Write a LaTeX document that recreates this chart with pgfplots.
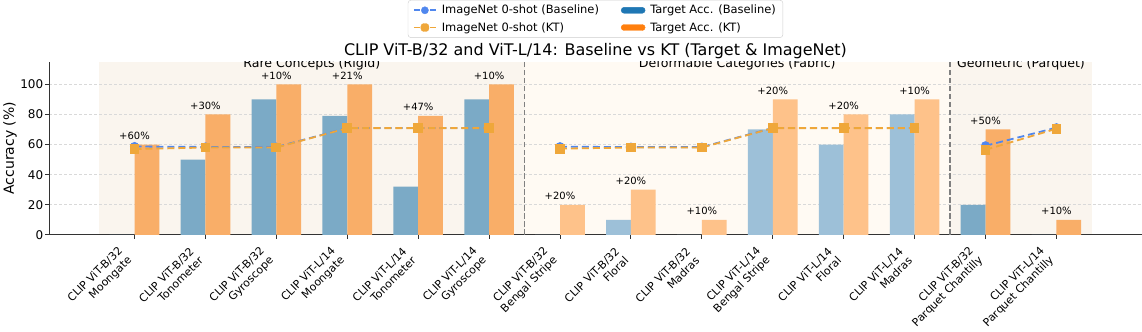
\documentclass[border=0pt]{standalone}
\usepackage{pgfplots}
\pgfplotsset{compat=1.18}
\usepackage{pgfplotstable}
\usepackage{fontspec}
\setmainfont{DejaVu Sans}

\definecolor{bgrigid}{HTML}{FAF5EE}
\definecolor{bgfab}{HTML}{FFFAF3}
\definecolor{barblue}{HTML}{7BAAC6}
\definecolor{barorange}{HTML}{F9AE68}
\definecolor{barbluelt}{HTML}{9DC0D8}
\definecolor{barorangelt}{HTML}{FEC28A}
\definecolor{tabblue}{HTML}{1F77B4}
\definecolor{taborange}{HTML}{FF7F0E}
\definecolor{inblue}{HTML}{5087EE}
\definecolor{inorange}{HTML}{EFA73A}
\definecolor{spine}{HTML}{333333}

% x = category index, base/kt = target accuracy, inbase/inkt = ImageNet 0-shot
\pgfplotstableread{
x  base kt  inbase inkt diff
0  0    60  58.7   57.0 60
1  50   80  58.4   58.0 30
2  90   100 58.3   58.0 10
3  79   100 71.0   70.9 21
4  32   79  71.0   70.9 47
5  90   100 71.0   70.9 10
6  0    20  58.6   57.3 20
7  10   30  58.3   58.0 20
8  0    10  58.3   58.0 10
9  70   90  71.0   70.9 20
10 60   80  71.0   70.9 20
11 80   90  71.0   70.9 10
12 20   70  59.2   56.5 50
13 0    10  71.2   70.5 10
}\data

\pgfplotsset{
  basebar/.style={ybar, bar width=0.35, bar shift=-0.175, draw=none, forget plot},
  ktbar/.style={ybar, bar width=0.35, bar shift=0.175, draw=none, forget plot},
  inbaseline/.style={inblue, line width=1.8pt, dash pattern=on 7pt off 4pt,
    mark=*, mark size=3.6pt, mark options={solid}, forget plot},
  inktline/.style={inorange, line width=1.8pt, dash pattern=on 7pt off 4pt,
    mark=square*, mark size=4pt, mark options={solid}, forget plot},
}

\begin{document}
\begin{tikzpicture}
\begin{axis}[
    set layers,
    scale only axis,
    width=1094pt, height=173.4pt,
    xmin=-1.2, xmax=14.2,
    ymin=0, ymax=115,
    axis x line*=bottom,
    axis y line*=left,
    axis line style={spine, line width=1pt},
    tick align=outside,
    major tick length=4pt,
    tick style={spine, line width=1pt},
    xtick={0,...,13},
    xticklabels={
      {CLIP ViT-B/32\\Moongate}, {CLIP ViT-B/32\\Tonometer}, {CLIP ViT-B/32\\Gyroscope},
      {CLIP ViT-L/14\\Moongate}, {CLIP ViT-L/14\\Tonometer}, {CLIP ViT-L/14\\Gyroscope},
      {CLIP ViT-B/32\\Bengal Stripe}, {CLIP ViT-B/32\\Floral}, {CLIP ViT-B/32\\Madras},
      {CLIP ViT-L/14\\Bengal Stripe}, {CLIP ViT-L/14\\Floral}, {CLIP ViT-L/14\\Madras},
      {CLIP ViT-B/32\\Parquet Chantilly}, {CLIP ViT-L/14\\Parquet Chantilly}},
    xticklabel style={font=\fontsize{11}{13}\selectfont, align=right,
      xshift=-9pt, yshift=-15pt, rotate=45, anchor=east, inner xsep=0pt},
    ytick={0,20,...,100},
    yticklabel style={font=\fontsize{12}{14}\selectfont, inner xsep=2pt},
    /pgf/number format/assume math mode=true,
    ymajorgrids,
    grid style={black!15, line width=0.8pt, dash pattern=on 3pt off 2pt},
    ylabel={Accuracy (\%)},
    ylabel style={font=\fontsize{14}{16}\selectfont, yshift=-2pt},
    title={CLIP ViT-B/32 and ViT-L/14: Baseline vs KT (Target \& ImageNet)},
    every axis title shift=0pt,
    title style={font=\fontsize{16}{19}\selectfont, at={(0.5,1)}, anchor=base, yshift=6.5pt},
    legend columns=2,
    legend style={at={(0.5,1)}, anchor=south, yshift=24pt,
      font=\fontsize{11.5}{14}\selectfont, draw=black!20, rounded corners=3pt,
      cells={anchor=west}, inner xsep=5pt, inner ysep=3pt,
      /tikz/row sep=3pt,
      /tikz/every odd column/.append style={column sep=3pt},
      /tikz/every even column/.append style={column sep=20pt}},
]

\begin{pgfonlayer}{axis background}
  \fill[bgrigid] (axis cs:-0.5,0) rectangle (axis cs:5.5,115);
  \fill[bgfab] (axis cs:5.5,0) rectangle (axis cs:11.5,115);
  \fill[bgrigid] (axis cs:11.5,0) rectangle (axis cs:13.5,115);
\end{pgfonlayer}

% legend entries in matplotlib's column order
\addlegendimage{legend image code/.code={
  \draw[inblue, line width=1.8pt] (0pt,0pt) -- (6pt,0pt) (16pt,0pt) -- (22pt,0pt);
  \fill[inblue] (11pt,0pt) circle (3.6pt);}}
\addlegendentry{ImageNet 0-shot (Baseline)}
\addlegendimage{legend image code/.code={
  \fill[tabblue] (0pt,-3pt) rectangle (24pt,3pt);}}
\addlegendentry{Target Acc. (Baseline)}
\addlegendimage{legend image code/.code={
  \draw[inorange, line width=1.8pt] (0pt,0pt) -- (6pt,0pt) (16pt,0pt) -- (22pt,0pt);
  \fill[inorange] (7pt,-4pt) rectangle (15pt,4pt);}}
\addlegendentry{ImageNet 0-shot (KT)}
\addlegendimage{legend image code/.code={
  \fill[taborange] (0pt,-3pt) rectangle (24pt,3pt);}}
\addlegendentry{Target Acc. (KT)}

% target accuracy bars
\addplot[basebar, fill=barblue, restrict x to domain=-0.5:5.5] table[x=x, y=base] {\data};
\addplot[ktbar, fill=barorange, restrict x to domain=-0.5:5.5] table[x=x, y=kt] {\data};
\addplot[basebar, fill=barbluelt, restrict x to domain=5.5:11.5] table[x=x, y=base] {\data};
\addplot[ktbar, fill=barorangelt, restrict x to domain=5.5:11.5] table[x=x, y=kt] {\data};
\addplot[basebar, fill=barblue, restrict x to domain=11.5:13.5] table[x=x, y=base] {\data};
\addplot[ktbar, fill=barorange, restrict x to domain=11.5:13.5] table[x=x, y=kt] {\data};

% group separators
\draw[black!50, line width=1.5pt, dash pattern=on 5.5pt off 2.5pt] (axis cs:5.5,0) -- (axis cs:5.5,115);
\draw[black!50, line width=1.5pt, dash pattern=on 5.5pt off 2.5pt] (axis cs:11.5,0) -- (axis cs:11.5,115);

% ImageNet 0-shot lines, one segment per group
\addplot[inbaseline, restrict x to domain=-0.5:5.5] table[x=x, y=inbase] {\data};
\addplot[inbaseline, restrict x to domain=5.5:11.5] table[x=x, y=inbase] {\data};
\addplot[inbaseline, restrict x to domain=11.5:13.5] table[x=x, y=inbase] {\data};
\addplot[inktline, restrict x to domain=-0.5:5.5] table[x=x, y=inkt] {\data};
\addplot[inktline, restrict x to domain=5.5:11.5] table[x=x, y=inkt] {\data};
\addplot[inktline, restrict x to domain=11.5:13.5] table[x=x, y=inkt] {\data};

% gain labels above the KT bars
\addplot[draw=none, mark=none, forget plot, point meta=explicit symbolic,
  nodes near coords={+\pgfplotspointmeta\%},
  nodes near coords style={anchor=base, yshift=5.3pt, inner sep=0pt, text=black,
    font=\fontsize{10}{12}\selectfont}]
  table[x=x, y=kt, meta=diff] {\data};

\node[anchor=base, font=\fontsize{12.6}{15}\selectfont] at (axis cs:2.5,111.2) {Rare Concepts (Rigid)};
\node[anchor=base, font=\fontsize{12.6}{15}\selectfont] at (axis cs:8.5,111.2) {Deformable Categories (Fabric)};
\node[anchor=base, font=\fontsize{12.6}{15}\selectfont] at (axis cs:12.5,111.2) {Geometric (Parquet)};

\end{axis}
\end{tikzpicture}
\end{document}
